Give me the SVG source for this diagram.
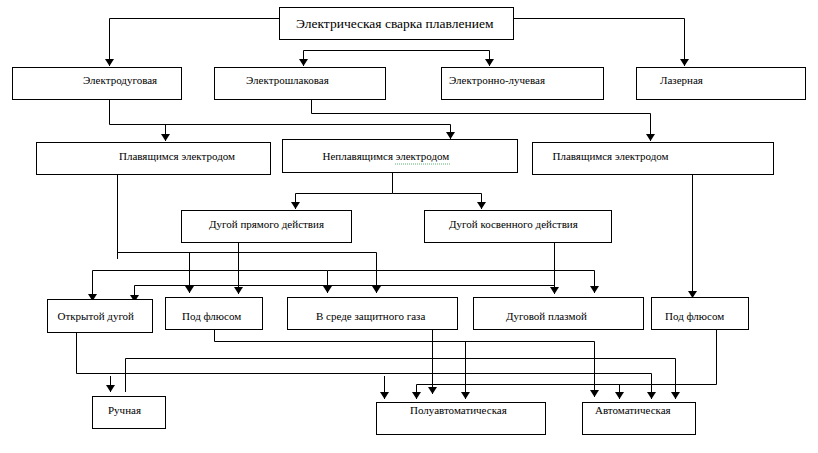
<svg xmlns="http://www.w3.org/2000/svg" width="818" height="453" viewBox="0 0 818 453">
<style>
.box{fill:#fff;stroke:#000;stroke-width:1}
.t{font-family:"Liberation Serif","Times New Roman",serif;font-size:11px;fill:#000}
.title{font-family:"Liberation Serif","Times New Roman",serif;font-size:13.5px;fill:#000}
.c{fill:none;stroke:#000;stroke-width:1}
.a{marker-end:url(#arr)}
.spell{fill:none;stroke:#2e9e4a;stroke-width:0.8;stroke-dasharray:1 1}
</style>
<defs>
<marker id="arr" markerUnits="userSpaceOnUse" markerWidth="12" markerHeight="12" viewBox="-8 -6 10 12" refX="0" refY="0" orient="auto">
<path d="M0,0 L-7,-4.5 L-7,4.5 Z" fill="#000"/>
</marker>
</defs>
<rect width="818" height="453" fill="#fff"/>

<g id="connectors">
<path class="c a" d="M279,18.5 H109.5 V66"/>
<path class="c a" d="M513,18.5 H684.5 V66"/>
<path class="c a" d="M396,50.5 H303.5 V66"/>
<path class="c a" d="M396,50.5 H489.5 V66"/>
<path class="c a" d="M109.5,99 V124.5 H450.5 V139"/>
<path class="c a" d="M165.5,124.5 V141"/>
<path class="c a" d="M311.5,99 V113.5 H650.5 V141"/>
<path class="c a" d="M392.5,172 V193.5 H295.5 V209"/>
<path class="c a" d="M392.5,193.5 H481.5 V209"/>
<path class="c" d="M117.5,174 V259"/>
<path class="c a" d="M117.5,252.5 H376.5 V293"/>
<path class="c a" d="M189.5,252.5 V293"/>
<path class="c a" d="M238.5,242 V294"/>
<path class="c a" d="M327.5,270.5 H92.5 V301"/>
<path class="c a" d="M327.5,270.5 V293"/>
<path class="c a" d="M327.5,270.5 H594.5 V293"/>
<path class="c a" d="M554.5,285.5 H134.5 V302"/>
<path class="c a" d="M554.5,242 V294"/>
<path class="c a" d="M692.5,174 V298"/>
<path class="c a" d="M76.5,332 V373.5 H651.5 V399"/>
<path class="c a" d="M110.5,376 V392"/>
<path class="c a" d="M384.5,376 V399"/>
<path class="c a" d="M125.5,392 V358.5 H675.5 V399"/>
<path class="c a" d="M214.5,329 V341.5 H594.5 V397"/>
<path class="c a" d="M465.5,341.5 V399"/>
<path class="c a" d="M432.5,329 V394"/>
<path class="c a" d="M716.5,329 V384.5 H416.5 V399"/>
<path class="c a" d="M619.5,384.5 V399"/>
</g>

<g id="n-svarka"><rect class="box" x="279.5" y="7.5" width="234" height="32"/><text class="title" x="296" y="28">Электрическая сварка плавлением</text></g>
<g id="n-elektrodugovaya"><rect class="box" x="12.5" y="67.5" width="169" height="32"/><text class="t" x="83" y="84">Электродуговая</text></g>
<g id="n-elektroshlakovaya"><rect class="box" x="214.5" y="67.5" width="171" height="32"/><text class="t" x="246" y="84">Электрошлаковая</text></g>
<g id="n-elektronno-luchevaya"><rect class="box" x="441.5" y="67.5" width="162" height="32"/><text class="t" x="449" y="84">Электронно-лучевая</text></g>
<g id="n-lazernaya"><rect class="box" x="636.5" y="67.5" width="169" height="32"/><text class="t" x="660" y="84">Лазерная</text></g>

<g id="n-plav-left"><rect class="box" x="36.5" y="142.5" width="234" height="32"/><text class="t" x="119" y="160">Плавящимся электродом</text></g>
<g id="n-neplav"><rect class="box" x="282.5" y="139.5" width="235" height="33"/><text class="t" x="322.5" y="160">Неплавящимся электродом</text><path class="spell" d="M395,164 L450,164"/></g>
<g id="n-plav-right"><rect class="box" x="532.5" y="142.5" width="241" height="32"/><text class="t" x="552.5" y="160">Плавящимся электродом</text></g>

<g id="n-pryamogo"><rect class="box" x="181.5" y="210.5" width="170" height="32"/><text class="t" x="209" y="228">Дугой прямого действия</text></g>
<g id="n-kosvennogo"><rect class="box" x="424.5" y="210.5" width="187" height="32"/><text class="t" x="449" y="228">Дугой косвенного действия</text></g>

<g id="n-otkrytoy"><rect class="box" x="47.5" y="299.5" width="105" height="33"/><text class="t" x="57.5" y="320">Открытой дугой</text></g>
<g id="n-flyus-left"><rect class="box" x="165.5" y="297.5" width="97" height="32"/><text class="t" x="182" y="320">Под флюсом</text></g>
<g id="n-gaz"><rect class="box" x="287.5" y="297.5" width="170" height="32"/><text class="t" x="316" y="320">В среде защитного газа</text></g>
<g id="n-plazma"><rect class="box" x="473.5" y="297.5" width="170" height="32"/><text class="t" x="506" y="320">Дуговой плазмой</text></g>
<g id="n-flyus-right"><rect class="box" x="651.5" y="297.5" width="97" height="32"/><text class="t" x="665" y="320">Под флюсом</text></g>

<g id="n-ruchnaya"><rect class="box" x="92.5" y="396.5" width="73" height="32"/><text class="t" x="108" y="414">Ручная</text></g>
<g id="n-poluavto"><rect class="box" x="376.5" y="402.5" width="169" height="32"/><text class="t" x="410" y="414">Полуавтоматическая</text></g>
<g id="n-avto"><rect class="box" x="582.5" y="402.5" width="113" height="32"/><text class="t" x="595" y="414">Автоматическая</text></g>
</svg>
